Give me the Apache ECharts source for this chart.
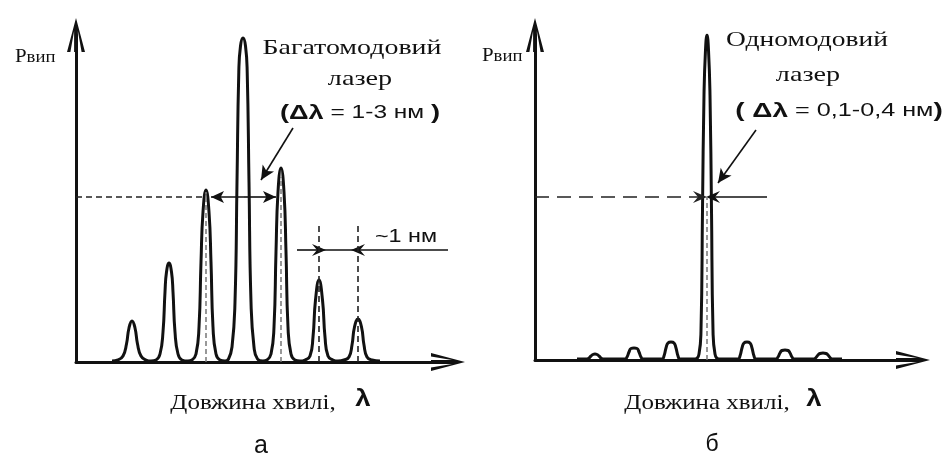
<!DOCTYPE html>
<html>
<head>
<meta charset="utf-8">
<script src="https://cdn.jsdelivr.net/npm/echarts@6/dist/echarts.min.js"></script>
<style>
  html, body { margin: 0; background: #fff; }
  #main { width: 945px; height: 468px; }
</style>
</head>
<body>
<div id="main"></div>
<script>
// units: arbitrary, counted from each panel's origin (wavelength -> x, power -> y)

// (а) multimode laser spectrum
var multiCurve = [
  [36, 1], [42, 2], [47, 6], [50.5, 18], [53, 34], [56, 41], [59, 34], [61.5, 18], [65, 6], [70, 2],
  [75, 1], [80, 2], [84, 8], [87, 30], [89, 70], [90.5, 90], [93, 99], [95.5, 90], [97, 70], [99, 30], [102, 8], [106, 2],
  [112, 1], [116, 2], [120, 8], [123, 35], [125, 100], [127, 150], [130, 172], [133, 150], [135, 100], [137, 35], [140, 8], [144, 2],
  [149, 1], [152.5, 3], [156, 15], [159, 60], [161, 180], [162.8, 290], [164.5, 316], [167, 324], [169.5, 316], [171.2, 290], [173, 180], [175, 60], [178, 15], [181.5, 3],
  [187, 1], [191, 2], [195, 8], [198, 35], [200, 110], [202, 170], [205, 194], [208, 170], [210, 110], [212, 35], [215, 8], [219, 2],
  [224, 1], [229, 2], [234, 6], [237, 25], [239.5, 62], [243, 82], [246.5, 62], [249, 25], [252, 6], [257, 2],
  [262, 1], [268, 2], [273, 5], [276, 17], [278.5, 35], [282, 43], [285.5, 35], [288, 17], [291, 5], [296, 2], [304, 1]
];
var multiMarkedPeaks = [[130, 170], [205, 185], [243, 137], [282, 137]]; // [x, top of dashed mark]
var multiHalfLevel = 165;
var multiWidthArrow = [135, 200];
var multiPointer = [[217, 234], [185, 182]];
var modeSpacing = { y: 112, from: 221, a: 243, b: 282, to: 372 };

// (б) single-mode laser spectrum
var singleCurve = [
  [42, 1], [52, 1], [54, 2], [56, 4], [58, 5.5], [60, 6], [62, 5.5], [64, 4], [66, 2], [68, 1],
  [90, 1], [92, 3], [94, 8], [96, 11.5], [99, 12], [102, 11.5], [104, 8], [106, 3], [108, 1],
  [127, 1], [129, 4], [131, 12], [133, 17], [136, 18], [139, 17], [141, 12], [143, 4], [145, 1],
  [160, 1], [164, 6], [166, 30], [167.5, 150], [169, 265], [170.5, 310], [172, 325], [173.5, 310], [175, 265], [176.5, 150], [178, 30], [180, 6], [184, 1],
  [203, 1], [205, 4], [207, 12], [209, 17], [212, 18], [215, 17], [217, 12], [219, 4], [221, 1],
  [241, 1], [243, 3], [245, 7], [247, 9.5], [250, 10], [253, 9.5], [255, 7], [257, 3], [259, 1],
  [279, 1], [281, 2.5], [283, 5], [285, 6.5], [288, 7], [291, 6.5], [293, 5], [295, 2.5], [297, 1], [307, 1]
];
var singlePeakX = 172;
var singleHalfLevel = 163;
var singleWidthArrow = { left: 165, right: 178, end: 232 };
var singlePointer = [[221, 230], [183, 177]];

var ink = '#111';
var axisArrow = 'path://M9,0 L18,34 L14.6,34 L10.9,13 L10.9,34 L7.1,34 L7.1,13 L3.4,34 L0,34 Z';
var barb = 'path://M6,0 L12,14 L6,9 L0,14 Z';

var myChart = echarts.init(document.getElementById('main'));

function axisPair(gi, xmax, ymax) {
  var line = {
    show: true,
    symbol: ['none', axisArrow],
    symbolSize: [18, 34],
    lineStyle: { color: ink, width: 3 }
  };
  return {
    x: { type: 'value', gridIndex: gi, min: 0, max: xmax, axisLine: line, axisTick: { show: false }, axisLabel: { show: false }, splitLine: { show: false } },
    y: { type: 'value', gridIndex: gi, min: 0, max: ymax, axisLine: line, axisTick: { show: false }, axisLabel: { show: false }, splitLine: { show: false } }
  };
}
var a0 = axisPair(0, 372, 327);
var a1 = axisPair(1, 378, 325);

function seg(p, q, style, endSymbol, endSize) {
  return [
    { coord: p, symbol: 'none', lineStyle: style },
    { coord: q, symbol: endSymbol || 'none', symbolSize: endSize || 10 }
  ];
}
var dashed = { type: [6, 4], width: 1.6, color: '#222' };
var longDash = { type: [14, 8], width: 1.6, color: '#222' };
var inner = { type: [5, 3], width: 1.5, color: '#777' };
var thin = { type: 'solid', width: 1.6, color: ink };

var multiMarks = [
  seg([0, multiHalfLevel], [128, multiHalfLevel], dashed),
  seg([168, multiHalfLevel], [multiWidthArrow[0], multiHalfLevel], thin, 'arrow', [9, 13]),
  seg([168, multiHalfLevel], [multiWidthArrow[1], multiHalfLevel], thin, 'arrow', [9, 13]),
  seg(multiPointer[0], multiPointer[1], thin, 'arrow', [10, 14]),
  seg([modeSpacing.from, modeSpacing.y], [modeSpacing.a, modeSpacing.y], thin, barb, [12, 14]),
  seg([modeSpacing.a, modeSpacing.y], [modeSpacing.b, modeSpacing.y], thin),
  seg([modeSpacing.to, modeSpacing.y], [modeSpacing.b, modeSpacing.y], thin, barb, [12, 14])
];
multiMarkedPeaks.forEach(function (p, i) {
  multiMarks.push(seg([p[0], 0], [p[0], p[1]], i < 2 ? inner : dashed));
});

var singleMarks = [
  seg([0, singleHalfLevel], [singleWidthArrow.left, singleHalfLevel], longDash, barb, [12, 14]),
  seg([singleWidthArrow.end, singleHalfLevel], [singleWidthArrow.right, singleHalfLevel], thin, barb, [12, 14]),
  seg(singlePointer[0], singlePointer[1], thin, 'arrow', [10, 14]),
  seg([singlePeakX, 0], [singlePeakX, singleHalfLevel], inner)
];

function curve(xi, data, marks) {
  return {
    type: 'line',
    xAxisIndex: xi,
    yAxisIndex: xi,
    data: data,
    showSymbol: false,
    smooth: 0.5,
    silent: true,
    lineStyle: { color: ink, width: 3 },
    markLine: {
      silent: true,
      symbol: ['none', 'none'],
      label: { show: false },
      emphasis: { disabled: true },
      data: marks
    }
  };
}

function txt(x, y, text, font, sx, align) {
  return {
    type: 'text',
    x: x,
    y: y,
    scaleX: sx,
    silent: true,
    style: {
      text: text,
      font: font,
      fill: ink,
      align: align || 'center',
      textAlign: align || 'center',
      verticalAlign: 'middle',
      textVerticalAlign: 'middle'
    }
  };
}
var serif = '"Liberation Serif", "DejaVu Serif", serif';
var sans = '"Liberation Sans", Arial, sans-serif';
var pRich = {
  p: { font: '19px ' + serif, fill: ink, verticalAlign: 'bottom' },
  s: { font: '17px ' + serif, fill: ink, verticalAlign: 'bottom' }
};
var dRich = {
  a: { font: 'bold 20px ' + sans, fill: ink },
  b: { font: '18px ' + sans, fill: ink }
};

function richTxt(x, y, text, rich, sx, align) {
  var t = txt(x, y, text, null, sx, align);
  delete t.style.font;
  t.style.rich = rich;
  return t;
}

myChart.setOption({
  backgroundColor: '#fff',
  animation: false,
  grid: [
    { left: 76, top: 35, width: 372, height: 327 },
    { left: 535, top: 35, width: 378, height: 325 }
  ],
  xAxis: [a0.x, a1.x],
  yAxis: [a0.y, a1.y],
  series: [
    curve(0, multiCurve, multiMarks),
    curve(1, singleCurve, singleMarks)
  ],
  graphic: [
    richTxt(15, 57, '{p|Р}{s|вип}', pRich, 1.1, 'left'),
    txt(352, 48, 'Багатомодовий', '22px ' + serif, 1.27),
    txt(360, 79, 'лазер', '22px ' + serif, 1.28),
    richTxt(360, 113, '{a|(Δλ}{b| = 1-3 нм }{a|)}', dRich, 1.36),
    txt(406, 237, '~1 нм', '18px ' + sans, 1.3),
    txt(253, 403, 'Довжина хвилі,', '21px ' + serif, 1.19),
    txt(363, 400, 'λ', 'bold 23px ' + sans, 1.2),
    txt(261, 446, 'а', '25px ' + sans, 1),

    richTxt(482, 56, '{p|Р}{s|вип}', pRich, 1.1, 'left'),
    txt(807, 40, 'Одномодовий', '22px ' + serif, 1.25),
    txt(808, 75, 'лазер', '22px ' + serif, 1.28),
    richTxt(839, 111, '{a|( Δλ}{b| = 0,1-0,4 нм}{a|)}', dRich, 1.4),
    txt(707, 403, 'Довжина хвилі,', '21px ' + serif, 1.19),
    txt(814, 400, 'λ', 'bold 23px ' + sans, 1.2),
    txt(712, 445, 'б', '23px ' + sans, 1)
  ]
});
</script>
</body>
</html>
